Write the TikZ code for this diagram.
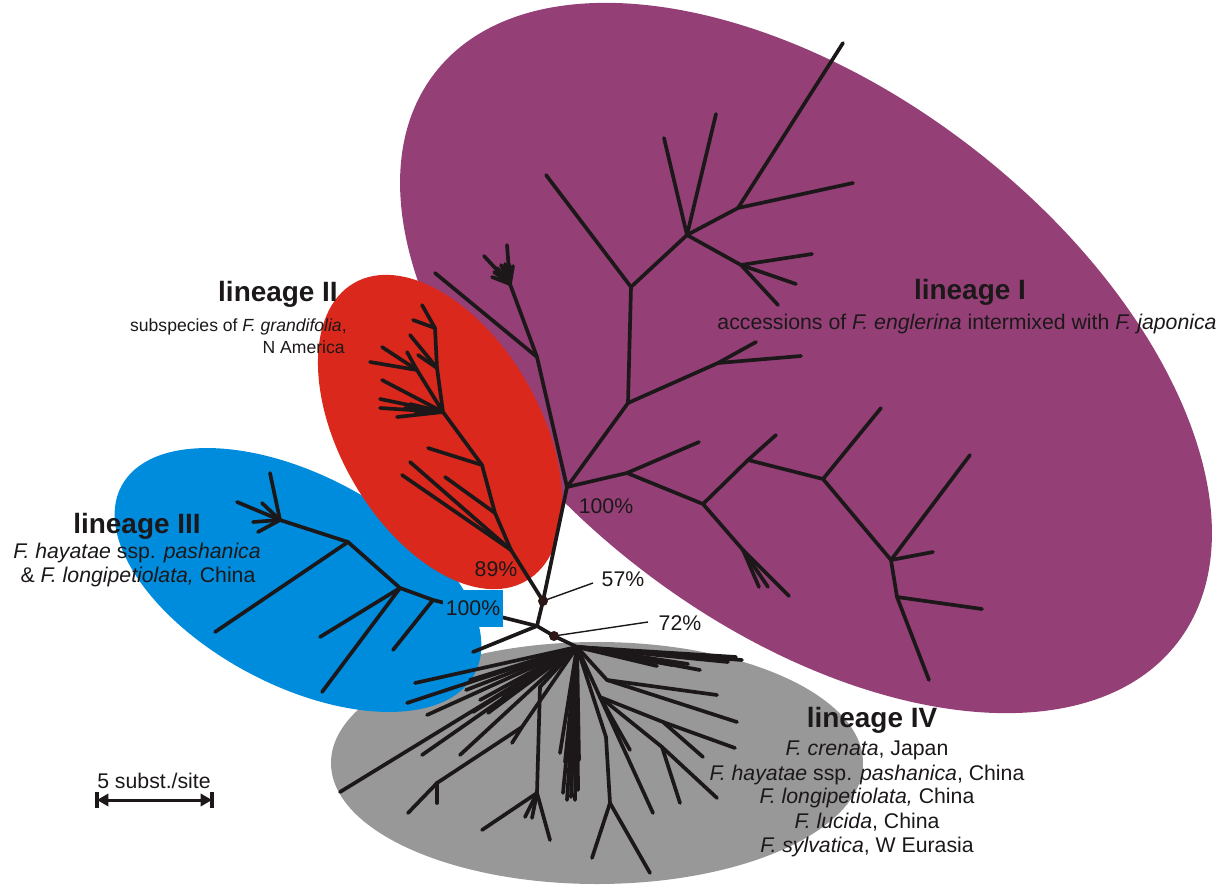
\documentclass[tikz,border=0pt]{standalone}
\usepackage{fontspec}
\setmainfont{Liberation Sans}
\usetikzlibrary{arrows.meta}
\definecolor{lineageI}{RGB}{148,64,119}
\definecolor{lineageII}{RGB}{218,41,28}
\definecolor{lineageIII}{RGB}{0,140,220}
\definecolor{lineageIV}{RGB}{152,152,152}
\definecolor{ink}{RGB}{28,24,25}
\definecolor{dotink}{RGB}{45,22,22}
\begin{document}
\begin{tikzpicture}[x=0.02cm,y=-0.02cm,
  branch/.style={draw=ink,line width=2.1pt,line cap=round,line join=round},
  pointer/.style={draw=ink,line width=0.8pt},
  title/.style={font=\fontsize{15.9}{19}\selectfont\bfseries,text=ink,inner sep=0pt,anchor=base},
  sub/.style={font=\fontsize{12.1}{14}\selectfont,text=ink,inner sep=0pt,anchor=base},
  smallsub/.style={font=\fontsize{10}{12}\selectfont,text=ink,inner sep=0pt,anchor=base east},
  bootdot/.style={fill=dotink}]

\useasboundingbox (0,0) rectangle (1232,886);

% ---- lineage backgrounds ----
\fill[lineageI,rotate around={-37.4:(806,358)}] (806,358) ellipse [x radius=468,y radius=268];
\fill[lineageIV] (597,763) ellipse [x radius=266,y radius=121];
\fill[lineageIII,rotate around={-28:(298,580)}] (298,580) ellipse [x radius=200,y radius=105];
\fill[lineageII,rotate around={-60:(440,432)}] (440,432) ellipse [x radius=172,y radius=100];

% ---- backbone ----
\coordinate (N57) at (543,601);
\coordinate (N72) at (554,636);
\coordinate (J)   at (537,626);
\coordinate (G0)  at (577,647);
\coordinate (P0)  at (567,487);
\coordinate (R0)  at (511,550);
\coordinate (B0)  at (433,600);
\coordinate (jL)  at (473,652);
\draw[branch] (P0) -- (N57) -- (J) -- (N72) -- (G0);
\draw[branch] (R0) -- (N57);
\draw[branch] (J) -- (jL);
\draw[branch] (B0) -- (J);

% ---- lineage I ----
\coordinate (P1)  at (537,357);
\coordinate (P1a) at (510,284);
\coordinate (P2)  at (628,403);
\coordinate (P3)  at (631,287);
\coordinate (P4)  at (687,235);
\coordinate (P5)  at (738,208);
\coordinate (P6)  at (741,265);
\coordinate (P7)  at (718,363);
\coordinate (P8)  at (627,473);
\coordinate (P9)  at (703,504);
\coordinate (P10) at (748,460);
\coordinate (P11) at (823,479);
\coordinate (P12) at (891,560);
\coordinate (P13) at (743,550);
\coordinate (P14) at (897,597);
\draw[branch] (P0) -- (P1) -- (P1a);
\draw[branch] (P0) -- (P2) -- (P3) -- (P4) -- (P5);
\draw[branch] (P4) -- (P6);
\draw[branch] (P2) -- (P7);
\draw[branch] (P0) -- (P8) -- (P9) -- (P10) -- (P11) -- (P12) -- (P14);
\draw[branch] (P9) -- (P13);
\foreach \src/\tip/\x/\y in {
  P1/pA/435/273, P1a/pB/507/245, P1a/pC/484/256, P1a/pD/492/277, P1a/pE/494/272,
  P1a/pF/497/268, P1a/pG/501/265, P1a/pH/505/264, P1a/pI/509/264, P1a/pJ/513/266,
  P3/pK/546/175, P4/pL/664/138, P4/pM/716/114, P5/pN/843/43, P5/pO/853/183,
  P6/pP/812/254, P6/pQ/796/284, P6/pR/778/305, P7/pS/756/342, P7/pT/801/356,
  P8/pU/699/442, P10/pV/776/435, P11/pW/881/408, P12/pX/970/455, P12/pY/933/552,
  P13/pZ/759/587, P13/pAA/768/587, P13/pAB/789/596, P14/pAC/982/609, P14/pAD/929/680}
  {\coordinate (\tip) at (\x,\y); \draw[branch] (\src) -- (\tip);}

% ---- lineage II ----
\coordinate (R1) at (495,513);
\coordinate (R2) at (482,465);
\coordinate (R3) at (443,412);
\coordinate (R4) at (435,328);
\coordinate (R5) at (417,370);
\coordinate (R6) at (437,368);
\draw[branch] (R0) -- (R1) -- (R2) -- (R3) -- (R6) -- (R4);
\draw[branch] (R3) -- (R5);
\foreach \src/\tip/\x/\y in {
  R0/rA/410/462, R0/rB/402/475, R1/rC/445/477, R2/rD/428/448,
  R3/rE/380/399, R3/rF/380/408, R3/rG/397/417, R3/rH/382/380,
  R3/rI/405/408, R3/rJ/410/404, R3/rK/415/411,
  R4/rL/422/305, R4/rM/413/320, R6/rN/410/335, R6/rO/418/355,
  R5/rP/407/352, R5/rQ/382/347, R5/rR/370/362}
  {\coordinate (\tip) at (\x,\y); \draw[branch] (\src) -- (\tip);}

% ---- lineage III ----
\coordinate (B1) at (400,588);
\coordinate (B2) at (348,542);
\coordinate (B3) at (280,520);
\draw[branch] (B0) -- (B1) -- (B2) -- (B3);
\foreach \src/\tip/\x/\y in {
  B0/bA/393/650, B1/bB/320/637, B1/bC/322/692, B2/bD/215/632,
  B3/bE/270/473, B3/bF/237/502, B3/bG/262/503, B3/bH/253/522, B3/bI/258/532}
  {\coordinate (\tip) at (\x,\y); \draw[branch] (\src) -- (\tip);}

% ---- lineage IV ----
\coordinate (G1)  at (607,680);
\coordinate (G2)  at (600,697);
\coordinate (G3)  at (663,722);
\coordinate (G4)  at (662,747);
\coordinate (G7)  at (606,737);
\coordinate (G8)  at (610,803);
\coordinate (GL1) at (437,783);
\coordinate (GL2) at (522,727);
\coordinate (GL3) at (540,687);
\coordinate (GL4) at (537,793);
\draw[branch] (G0) -- (G1);
\draw[branch] (G0) -- (G2) -- (G3);
\draw[branch] (G2) -- (G4);
\draw[branch] (G0) -- (G7) -- (G8);
\draw[branch] (G0) -- (GL2) -- (GL1);
\draw[branch] (G0) -- (GL3) -- (GL4);
\foreach \src/\tip/\x/\y in {
  G0/gA/742/660, G0/gB/736/657, G0/gC/728/662, G0/gD/715/659, G0/gE/700/670,
  G0/gF/688/664, G0/gG/672/665, G0/gH/657/666,
  G1/gI/717/695, G1/gJ/737/722, G3/gK/735/748, G3/gL/703/757,
  G4/gM/717/798, G4/gN/680/803, G2/gO/630/750, G2/gP/653/813,
  G8/gQ/592/858, G8/gR/650/873,
  G0/gS/563/793, G0/gT/567/800, G0/gU/571/797, G0/gV/575/800, G0/gW/578/790,
  G0/gX/572/757, G0/gY/565/762, G0/gZ/560/753, G0/gAA/579/760, G0/gAB/569/783,
  G0/gAC/340/792, G0/gAD/407/703, G0/gAE/415/683, G0/gAF/427/715, G0/gAG/422/755,
  G0/gAH/460/755, G0/gAI/470/680, G0/gAJ/466/690, G0/gAK/480/700, G0/gAL/473/712,
  G0/gAM/488/713, G0/gAN/496/704, G0/gAO/503/697,
  GL2/gAP/512/743, GL1/gAQ/408/813, GL1/gAR/437/803,
  GL4/gAS/482/830, GL4/gAT/550/840, GL4/gAU/525/817, GL4/gAV/532/818}
  {\coordinate (\tip) at (\x,\y); \draw[branch] (\src) -- (\tip);}

% ---- support values ----
\coordinate (c57) at (593,583);
\coordinate (c72) at (648,622);
\draw[pointer] (N57) -- (c57);
\draw[pointer] (N72) -- (c72);
\fill[bootdot] (N57) circle[radius=5];
\fill[bootdot] (N72) circle[radius=5];
\node[sub] (sup57) at (623,586) {57\%};
\node[sub] (sup72) at (680,630) {72\%};
\node[sub] (supI) at (606,513) {100\%};
\node[sub] (supII) at (496,576) {89\%};
\node[sub,anchor=center,fill=lineageIII,minimum width=1.2cm,minimum height=0.74cm] (supIII) at (473,608.5) {100\%};

% ---- lineage labels ----
\node[title] (tI) at (970,299) {lineage I};
\node[sub] (sI) at (967,329) {accessions of \textit{F. englerina} intermixed with \textit{F. japonica}};

\node[title] (tII) at (278,301) {lineage II};
\node[smallsub] (sIIa) at (347,331) {subspecies of \textit{F. grandifolia},};
\node[smallsub] (sIIb) at (345,353) {N America};

\node[title] (tIII) at (137,533) {lineage III};
\node[sub] (sIIIa) at (137,558) {\textit{F. hayatae} ssp. \textit{pashanica}};
\node[sub] (sIIIb) at (138,582) {\& \textit{F. longipetiolata,} China};

\node[title] (tIV) at (872,727) {lineage IV};
\node[sub] (sIVa) at (867,755) {\textit{F. crenata}, Japan};
\node[sub] (sIVb) at (867,780) {\textit{F. hayatae} ssp. \textit{pashanica}, China};
\node[sub] (sIVc) at (867,803) {\textit{F. longipetiolata,} China};
\node[sub] (sIVd) at (867,828) {\textit{F. lucida}, China};
\node[sub] (sIVe) at (867,852) {\textit{F. sylvatica}, W Eurasia};

% ---- scale bar ----
\coordinate (sbL) at (97,800);
\coordinate (sbR) at (212,800);
\coordinate (sbLt) at (97,792);
\coordinate (sbLb) at (97,808);
\coordinate (sbRt) at (212,792);
\coordinate (sbRb) at (212,808);
\draw[draw=ink,line width=1.7pt,{Triangle[length=6.5pt,width=7pt]}-{Triangle[length=6.5pt,width=7pt]}] (sbL) -- (sbR);
\draw[draw=ink,line width=2pt] (sbLt) -- (sbLb);
\draw[draw=ink,line width=2pt] (sbRt) -- (sbRb);
\node[sub] (sbText) at (154,788) {5 subst./site};
\end{tikzpicture}
\end{document}
